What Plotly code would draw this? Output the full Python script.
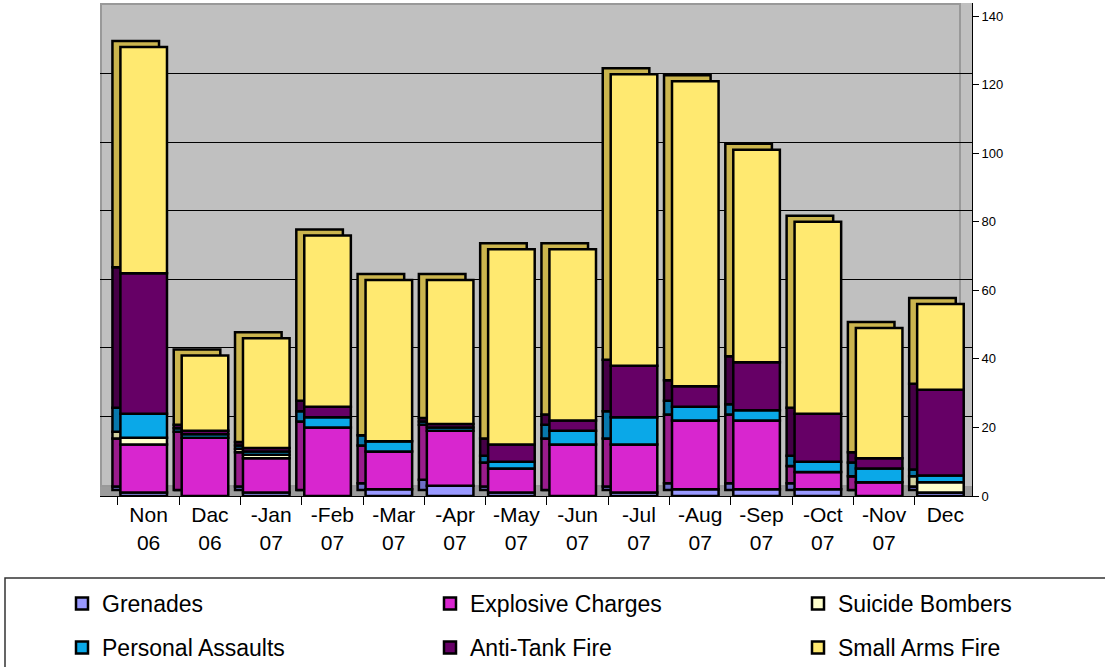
import plotly.graph_objects as go

# ---------------- data ----------------
categories = ["Non<br>06", "Dac<br>06", "-Jan<br>07", "-Feb<br>07", "-Mar<br>07", "-Apr<br>07",
              "-May<br>07", "-Jun<br>07", "-Jul<br>07", "-Aug<br>07", "-Sep<br>07", "-Oct<br>07",
              "-Nov<br>07", "Dec"]
grenades = [1, 0, 1, 0, 2, 3, 1, 0, 1, 2, 2, 2, 0, 1]
explosive_charges = [14, 17, 10, 20, 11, 16, 7, 15, 14, 20, 20, 5, 4, 0]
suicide_bombers = [2, 0, 1, 0, 0, 0, 0, 0, 0, 0, 0, 0, 0, 3]
personal_assaults = [7, 1, 1, 3, 3, 1, 2, 4, 8, 4, 3, 3, 4, 2]
anti_tank_fire = [41, 1, 1, 3, 0, 1, 5, 3, 15, 6, 14, 14, 3, 25]
small_arms_fire = [66, 22, 32, 50, 47, 42, 57, 50, 85, 89, 62, 56, 38, 25]
y_ticks = [0, 20, 40, 60, 80, 100, 120, 140]
grid_ticks = [20, 40, 60, 80, 100, 120]

series = [
    ("Grenades", grenades, "#9999FF", "#6E6EC8", "legend"),
    ("Explosive Charges", explosive_charges, "#D826CF", "#9A1C8C", "legend2"),
    ("Suicide Bombers", suicide_bombers, "#FFFFCC", "#D2D2A0", "legend3"),
    ("Personal Assaults", personal_assaults, "#0AA8E8", "#0878AC", "legend4"),
    ("Anti-Tank Fire", anti_tank_fire, "#660066", "#460046", "legend5"),
    ("Small Arms Fire", small_arms_fire, "#FFE970", "#CBB54E", "legend6"),
]

FONT = "Arial, Liberation Sans, sans-serif"
DEPTH = 1.75       # vertical depth of the 3D extrusion, in data units
FRONT_OFF, BAR_W = -0.46, 0.76
BACK_OFF = -0.59

# geometry helpers (pixel -> paper)
L, R, T, B = 100, 133, 3, 171
W, H = 1105, 667
PW, PH = W - L - R, H - T - B
def px_x(p):
    return (p - L) / PW
def px_y(p):
    return (H - B - p) / PH

fig = go.Figure()

# cumulative bases
bases = []
run = [0] * len(categories)
for _, vals, *_ in series:
    bases.append(list(run))
    run = [a + b for a, b in zip(run, vals)]

# back (depth) faces
for (name, vals, front, back, lg), base in zip(series, bases):
    fig.add_trace(go.Bar(
        x=categories, y=vals, base=[b + DEPTH for b in base],
        offset=BACK_OFF, width=BAR_W,
        marker=dict(color=back, line=dict(color="black", width=2.5)),
        showlegend=False, hoverinfo="skip",
    ))

# front faces
for (name, vals, front, back, lg), base in zip(series, bases):
    fig.add_trace(go.Bar(
        x=categories, y=vals, base=base, name=name,
        offset=FRONT_OFF, width=BAR_W,
        marker=dict(color=front, line=dict(color="black", width=2.5)),
        legend=lg,
    ))

# empty trace to carry the shifted back-wall grid axis
fig.add_trace(go.Scatter(x=[], y=[], yaxis="y2", showlegend=False, hoverinfo="skip"))

legend_pos = {
    "legend": (62, 582), "legend2": (430, 582), "legend3": (798, 582),
    "legend4": (62, 626), "legend5": (430, 626), "legend6": (798, 626),
}
legend_layout = {}
for key, (lx, ly) in legend_pos.items():
    legend_layout[key] = dict(
        x=px_x(lx), y=px_y(ly), xanchor="left", yanchor="top",
        font=dict(family=FONT, size=23, color="black"),
        bgcolor="rgba(0,0,0,0)", borderwidth=0,
    )

fig.update_layout(
    width=W, height=H,
    margin=dict(l=L, r=R, t=T, b=B, autoexpand=False),
    paper_bgcolor="white",
    plot_bgcolor="#C0C0C0",
    barmode="overlay",
    font=dict(family=FONT, color="black"),
    xaxis=dict(
        type="category", range=[-0.793, 13.435],
        tickson="boundaries", ticks="outside", ticklen=8, tickcolor="black",
        showline=True, linecolor="black", linewidth=1,
        showgrid=False, tickfont=dict(size=21, family=FONT, color="black"),
    ),
    yaxis=dict(
        side="right", range=[0, 143.8], tickvals=y_ticks,
        ticks="outside", ticklen=6, tickcolor="black",
        showline=True, linecolor="black", linewidth=1,
        showgrid=False, zeroline=False,
        tickfont=dict(size=13, family=FONT, color="black"),
    ),
    yaxis2=dict(
        overlaying="y", range=[-3.2, 140.6], tickvals=grid_ticks,
        showgrid=True, gridcolor="black", gridwidth=1,
        showticklabels=False, ticks="", showline=False, zeroline=False,
    ),
    shapes=[
        # floor
        dict(type="rect", xref="paper", yref="paper", x0=0, x1=1, y0=0, y1=px_y(486),
             fillcolor="#9C9C9C", line=dict(width=0), layer="below"),
        # back wall edge
        dict(type="rect", xref="paper", yref="paper", x0=px_x(101), x1=px_x(960),
             y0=px_y(486), y1=px_y(4), fillcolor="rgba(0,0,0,0)",
             line=dict(color="#999999", width=2), layer="below"),
        # legend frame
        dict(type="rect", xref="paper", yref="paper", x0=px_x(5), x1=px_x(1115),
             y0=px_y(578), y1=px_y(700), fillcolor="rgba(0,0,0,0)",
             line=dict(color="#333333", width=1.5)),
    ],
    **legend_layout,
)

fig.write_html("out.html")
